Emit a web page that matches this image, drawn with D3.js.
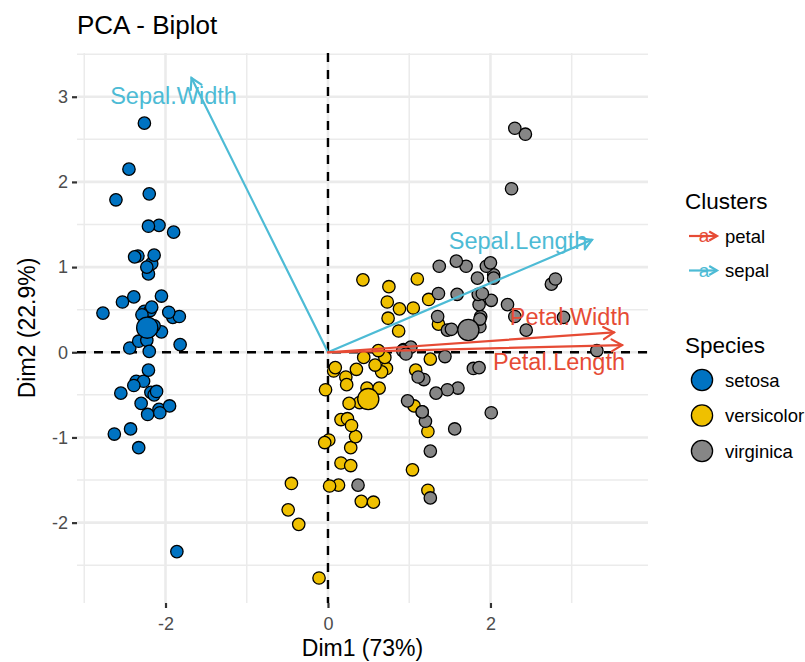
<!DOCTYPE html>
<html><head><meta charset="utf-8">
<script src="https://cdn.jsdelivr.net/npm/d3@7"></script>
<style>
  html,body{margin:0;padding:0;background:#fff}
  svg text{font-family:"Liberation Sans",Arial,Helvetica,sans-serif}
</style>
</head><body>
<svg id="chart" width="805" height="662"></svg>
<script>
// PCA of the iris measurements: individual coordinates on Dim1 / Dim2
const species = ["setosa", "versicolor", "virginica"];
const speciesColors = ["#0073C2", "#EFC000", "#868686"];

const setosaDim1 = [-2.26,-2.08,-2.36,-2.30,-2.39,-2.08,-2.44,-2.23,-2.33,-2.18,
  -2.17,-2.33,-2.22,-2.63,-2.20,-2.26,-2.21,-2.19,-1.90,-2.34,
  -1.91,-2.21,-2.77,-1.82,-2.23,-1.95,-2.05,-2.17,-2.14,-2.27,
  -2.14,-1.83,-2.61,-2.45,-2.11,-2.21,-2.05,-2.53,-2.43,-2.17,
  -2.29,-1.86,-2.55,-1.96,-2.14,-2.07,-2.38,-2.39,-2.23,-2.20];
const setosaDim2 = [0.48,-0.67,-0.34,-0.60,0.65,1.49,0.05,0.22,-1.12,-0.47,
  1.04,0.13,-0.73,-0.96,1.86,2.69,1.48,0.49,1.41,1.13,
  0.41,0.92,0.46,0.09,0.14,-0.63,0.24,0.53,0.31,-0.34,
  -0.50,0.42,1.79,2.15,-0.46,-0.21,0.66,0.59,-0.90,0.27,
  0.44,-2.34,-0.48,0.47,1.14,-0.71,1.12,-0.39,1.00,0.01];

const versicolorDim1 = [1.10,0.73,1.24,0.41,1.08,0.39,0.75,-0.49,0.93,0.01,
  -0.11,0.44,0.56,0.72,-0.03,0.88,0.35,0.16,1.23,0.16,
  0.74,0.48,1.23,0.63,0.70,0.87,1.26,1.36,0.66,-0.04,
  0.13,0.02,0.24,1.06,0.22,0.43,1.05,1.04,0.07,0.28,
  0.28,0.62,0.34,-0.36,0.29,0.09,0.23,0.58,-0.45,0.26];
const versicolorDim2 = [0.86,0.59,0.62,-1.75,-0.21,-0.59,0.77,-1.85,0.03,-1.03,
  -2.65,-0.06,-1.76,-0.19,-0.44,0.51,-0.20,-0.79,-1.62,-1.30,
  0.40,-0.42,-0.93,-0.42,-0.06,0.25,-0.08,0.33,-0.23,-1.06,
  -1.56,-1.57,-0.78,-0.63,-0.29,0.85,0.52,-1.38,-0.22,-1.33,
  -1.12,0.02,-0.99,-2.02,-0.86,-0.18,-0.38,-0.15,-1.54,-0.60];

const virginicaDim1 = [1.84,1.16,2.21,1.44,1.87,2.75,0.37,2.30,2.01,2.26,
  1.36,1.60,1.88,1.26,1.47,1.59,1.47,2.43,3.31,1.26,
  2.04,0.98,2.90,1.33,1.70,1.95,1.18,1.02,1.79,1.86,
  2.44,2.30,1.86,1.11,1.20,2.80,1.58,1.35,0.92,1.85,
  2.01,1.90,1.16,2.04,2.00,1.87,1.56,1.52,1.37,0.96];
const virginicaDim2 = [0.87,-0.70,0.56,-0.05,0.30,0.80,-1.56,0.42,-0.71,1.92,
  0.69,-0.42,0.42,-1.16,-0.44,0.68,0.26,2.56,0.02,-1.71,
  0.91,-0.57,0.41,-0.48,1.01,1.01,-0.32,0.06,-0.19,0.56,
  0.26,2.63,-0.18,-0.29,-0.81,0.86,1.07,0.42,0.02,0.68,
  0.61,0.69,-0.70,0.87,1.05,0.39,-0.90,0.27,1.01,-0.02];

// group centres
const meanDim1 = [-2.225, 0.496, 1.728];
const meanDim2 = [0.289, -0.550, 0.261];

// variable arrows (scaled correlations)
const varNames   = ["Sepal.Length", "Sepal.Width", "Petal.Length", "Petal.Width"];
const varCluster = ["sepal", "sepal", "petal", "petal"];
const varDim1    = [3.25, -1.68, 3.62, 3.52];
const varDim2    = [1.32, 3.22, 0.084, 0.234];

const clusters = ["petal", "sepal"];
const clusterColors = ["#E64B35", "#4DBBD5"];

const xTicks = [-2, 0, 2];
const yTicks = [-2, -1, 0, 1, 2, 3];
const xMinor = [-3, -1, 1, 3];
const yMinor = [-2.5, -1.5, -0.5, 0.5, 1.5, 2.5, 3.5];

const xTitle = "Dim1 (73%)";
const yTitle = "Dim2 (22.9%)";
const plotTitle = "PCA - Biplot";

// ---------------------------------------------------------------------
const svg = d3.select("#chart");
const panel = {left: 77, right: 648, top: 53, bottom: 603};

const groups = [
  {xs: setosaDim1, ys: setosaDim2},
  {xs: versicolorDim1, ys: versicolorDim2},
  {xs: virginicaDim1, ys: virginicaDim2}
];
const points = [];
groups.forEach((g, gi) => g.xs.forEach((v, i) => points.push({x: v, y: g.ys[i], s: gi})));

const allX = points.map(d => d.x).concat(varDim1, [0]);
const allY = points.map(d => d.y).concat(varDim2, [0]);
function expand(ext) { const p = (ext[1] - ext[0]) * 0.05; return [ext[0] - p, ext[1] + p]; }

const x = d3.scaleLinear().domain(expand(d3.extent(allX))).range([panel.left, panel.right]);
const y = d3.scaleLinear().domain(expand(d3.extent(allY))).range([panel.bottom, panel.top]);
const color = d3.scaleOrdinal().domain(species).range(speciesColors);
const clusterColor = d3.scaleOrdinal().domain(clusters).range(clusterColors);

// grid
const grid = svg.append("g").attr("stroke", "#EBEBEB").attr("fill", "none");
grid.selectAll(".vmin").data(xMinor).join("line")
  .attr("x1", d => x(d)).attr("x2", d => x(d)).attr("y1", panel.top).attr("y2", panel.bottom)
  .attr("stroke-width", 1.5);
grid.selectAll(".hmin").data(yMinor).join("line")
  .attr("y1", d => y(d)).attr("y2", d => y(d)).attr("x1", panel.left).attr("x2", panel.right)
  .attr("stroke-width", 1.5);
grid.selectAll(".vmaj").data(xTicks).join("line")
  .attr("x1", d => x(d)).attr("x2", d => x(d)).attr("y1", panel.top).attr("y2", panel.bottom)
  .attr("stroke-width", 2.6);
grid.selectAll(".hmaj").data(yTicks).join("line")
  .attr("y1", d => y(d)).attr("y2", d => y(d)).attr("x1", panel.left).attr("x2", panel.right)
  .attr("stroke-width", 2.6);

// reference lines through the origin
const ref = svg.append("g").attr("stroke", "#000").attr("stroke-width", 2.4).attr("stroke-dasharray", "9,8");
ref.append("line").attr("x1", panel.left).attr("x2", panel.right).attr("y1", y(0)).attr("y2", y(0));
ref.append("line").attr("x1", x(0)).attr("x2", x(0)).attr("y1", panel.top).attr("y2", panel.bottom);

// individuals
svg.append("g").selectAll("circle").data(points).join("circle")
  .attr("cx", d => x(d.x)).attr("cy", d => y(d.y)).attr("r", 6.2)
  .attr("fill", d => color(species[d.s])).attr("stroke", "#000").attr("stroke-width", 1.3);

// group centres
svg.append("g").selectAll("circle").data(species).join("circle")
  .attr("cx", (d, i) => x(meanDim1[i])).attr("cy", (d, i) => y(meanDim2[i])).attr("r", 10.6)
  .attr("fill", d => color(d)).attr("stroke", "#000").attr("stroke-width", 1.3);

// arrows
function arrowHead(x1, y1, x2, y2, len) {
  const a = Math.atan2(y2 - y1, x2 - x1), w = Math.PI / 6;
  return `M${x2 - len * Math.cos(a - w)},${y2 - len * Math.sin(a - w)}L${x2},${y2}L${x2 - len * Math.cos(a + w)},${y2 - len * Math.sin(a + w)}`;
}
const vars = varNames.map((n, i) => ({name: n, cl: varCluster[i], vx: varDim1[i], vy: varDim2[i]}));
const arrows = svg.append("g").attr("fill", "none").attr("stroke-width", 2.2).attr("stroke-linecap", "round");
arrows.selectAll("line").data(vars).join("line")
  .attr("x1", x(0)).attr("y1", y(0)).attr("x2", d => x(d.vx)).attr("y2", d => y(d.vy))
  .attr("stroke", d => clusterColor(d.cl));
arrows.selectAll("path").data(vars).join("path")
  .attr("d", d => arrowHead(x(0), y(0), x(d.vx), y(d.vy), 12))
  .attr("stroke", d => clusterColor(d.cl));

// variable labels, nudged off the arrow tips
const labelNudge = {"Sepal.Length": [-74, 9], "Sepal.Width": [-18, 26], "Petal.Length": [-63, 25], "Petal.Width": [-44, -7]};
svg.append("g").selectAll("text").data(vars).join("text")
  .attr("x", d => x(d.vx) + labelNudge[d.name][0]).attr("y", d => y(d.vy) + labelNudge[d.name][1])
  .attr("text-anchor", "middle").attr("font-size", 23.5)
  .attr("fill", d => clusterColor(d.cl)).text(d => d.name);

// axes
const yAxis = svg.append("g").attr("transform", `translate(${panel.left},0)`)
  .call(d3.axisLeft(y).tickValues(yTicks).tickSize(5).tickPadding(4).tickFormat(d => String(d)));
const xAxis = svg.append("g").attr("transform", `translate(0,${panel.bottom})`)
  .call(d3.axisBottom(x).tickValues(xTicks).tickSize(5).tickFormat(d => String(d)));
[xAxis, yAxis].forEach(ax => {
  ax.select(".domain").remove();
  ax.selectAll(".tick line").attr("stroke", "#333").attr("stroke-width", 2.2);
  ax.selectAll(".tick text").attr("fill", "#4D4D4D").attr("font-size", 18)
    .attr("font-family", "Liberation Sans, Arial, sans-serif");
});
xAxis.selectAll(".tick text").attr("dy", null).attr("y", 27);

svg.append("text").attr("x", (panel.left + panel.right) / 2).attr("y", 656)
  .attr("text-anchor", "middle").attr("font-size", 23).attr("fill", "#000").text(xTitle);
svg.append("text").attr("transform", `translate(35,${(panel.top + panel.bottom) / 2}) rotate(-90)`)
  .attr("text-anchor", "middle").attr("font-size", 23).attr("fill", "#000").text(yTitle);
svg.append("text").attr("x", 77).attr("y", 34).attr("font-size", 26).attr("fill", "#000").text(plotTitle);

// legends
const lg = svg.append("g");
lg.append("text").attr("x", 685).attr("y", 209).attr("font-size", 22.5).text("Clusters");
clusters.forEach((c, i) => {
  const cy = 236 + i * 34.5;
  lg.append("line").attr("x1", 689).attr("x2", 717).attr("y1", cy).attr("y2", cy)
    .attr("stroke", clusterColor(c)).attr("stroke-width", 2.2);
  lg.append("path").attr("d", arrowHead(689, cy, 717, cy, 9)).attr("fill", "none")
    .attr("stroke", clusterColor(c)).attr("stroke-width", 2.2);
  lg.append("text").attr("x", 704).attr("y", cy + 6).attr("text-anchor", "middle")
    .attr("font-size", 19).attr("fill", clusterColor(c)).text("a");
  lg.append("text").attr("x", 725).attr("y", cy + 6.5).attr("font-size", 18.5).attr("fill", "#000").text(c);
});
lg.append("text").attr("x", 685).attr("y", 353).attr("font-size", 22.5).text("Species");
species.forEach((s, i) => {
  const cy = 380 + i * 35.5;
  lg.append("circle").attr("cx", 702).attr("cy", cy).attr("r", 10.6)
    .attr("fill", color(s)).attr("stroke", "#000").attr("stroke-width", 1.3);
  lg.append("text").attr("x", 725).attr("y", cy + 6.5).attr("font-size", 18.5).attr("fill", "#000").text(s);
});
</script></body></html>
